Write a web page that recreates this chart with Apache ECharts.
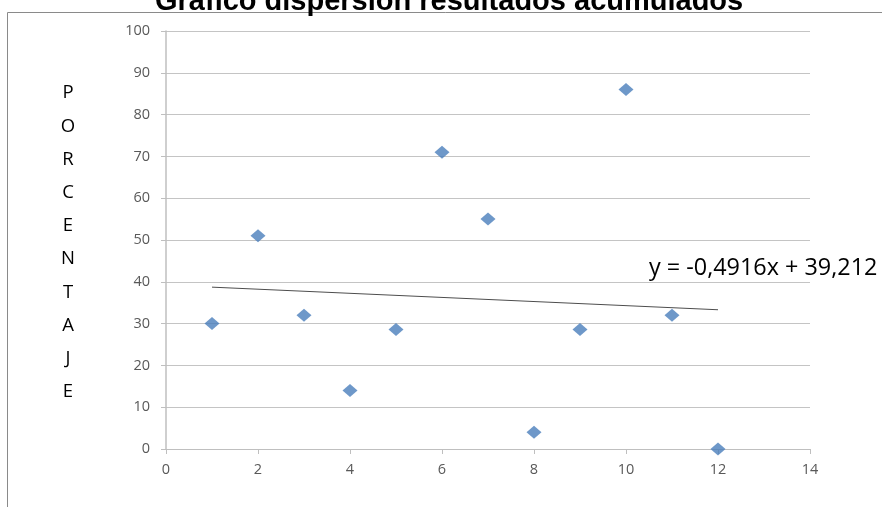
<!DOCTYPE html>
<html>
<head>
<meta charset="utf-8">
<script src="https://cdn.jsdelivr.net/npm/echarts@6/dist/echarts.min.js"></script>
<style>html,body{margin:0;padding:0;background:#fff;}#c{width:882px;height:507px;}</style>
</head>
<body>
<div id="c"></div>
<script>
const titleText = 'Gráfico dispersión resultados acumulados';
const yAxisTitle = ['P','O','R','C','E','N','T','A','J','E'];
const xValues = [1, 2, 3, 4, 5, 6, 7, 8, 9, 10, 11, 12];
const yValues = [30, 51, 32, 14, 28.6, 71, 55, 4, 28.6, 86, 32, 0];
const trendSlope = -0.4916;
const trendIntercept = 39.212;
const trendLabel = 'y = -0,4916x + 39,212';
const trendRange = [1, 12];

const points = xValues.map((x, i) => [x, yValues[i]]);
const trendData = trendRange.map(x => [x, trendIntercept + trendSlope * x]);

const chart = echarts.init(document.getElementById('c'));
chart.setOption({
  animation: false,
  title: {
    text: titleText,
    left: 155,
    top: -13,
    padding: 0,
    textStyle: { fontFamily: 'Liberation Sans', fontWeight: 'bold', fontSize: 29, color: '#000' }
  },
  grid: { left: 166, right: 72, top: 31, bottom: 58, containLabel: false },
  xAxis: {
    type: 'value', min: 0, max: 14, interval: 2,
    axisLine: { show: true, lineStyle: { color: '#bfbfbf', width: 1 } },
    axisTick: { show: true, inside: false, length: 5, lineStyle: { color: '#bfbfbf' } },
    splitLine: { show: false },
    axisLabel: { color: '#595959', fontFamily: 'Open Sans', fontSize: 14.5, margin: 13 }
  },
  yAxis: {
    type: 'value', min: 0, max: 100, interval: 10,
    axisLine: { show: true, onZero: false, lineStyle: { color: '#bfbfbf', width: 1.5 } },
    axisTick: { show: true, inside: false, length: 5, lineStyle: { color: '#bfbfbf' } },
    splitLine: { show: true, lineStyle: { color: '#c4c4c4', width: 1 } },
    axisLabel: { color: '#595959', fontFamily: 'Open Sans', fontSize: 14.5, margin: 16 }
  },
  graphic: [
    {
      type: 'rect', silent: true, z: -1,
      shape: { x: 7.5, y: 12.5, width: 900, height: 600 },
      style: { fill: 'none', stroke: '#8a8a8a', lineWidth: 1 }
    },
    {
      type: 'text', silent: true,
      x: 68, y: 242.5,
      style: {
        text: yAxisTitle.join('\n'),
        align: 'center', verticalAlign: 'middle',
        fontFamily: 'Open Sans', fontSize: 18.5, lineHeight: 33.2, fill: '#000'
      }
    },
    {
      type: 'text', silent: true,
      x: 649, y: 268,
      style: {
        text: trendLabel,
        align: 'left', verticalAlign: 'middle',
        fontFamily: 'Open Sans', fontSize: 23.4, fill: '#000'
      }
    }
  ],
  series: [
    {
      type: 'line', data: trendData, symbol: 'none', silent: true,
      lineStyle: { color: '#4d4d4d', width: 1 }, z: 1
    },
    {
      type: 'scatter', data: points, symbol: 'diamond', symbolSize: [15, 13],
      itemStyle: { color: '#4a7ebb' }, z: 2
    }
  ]
});
</script>
</body>
</html>
